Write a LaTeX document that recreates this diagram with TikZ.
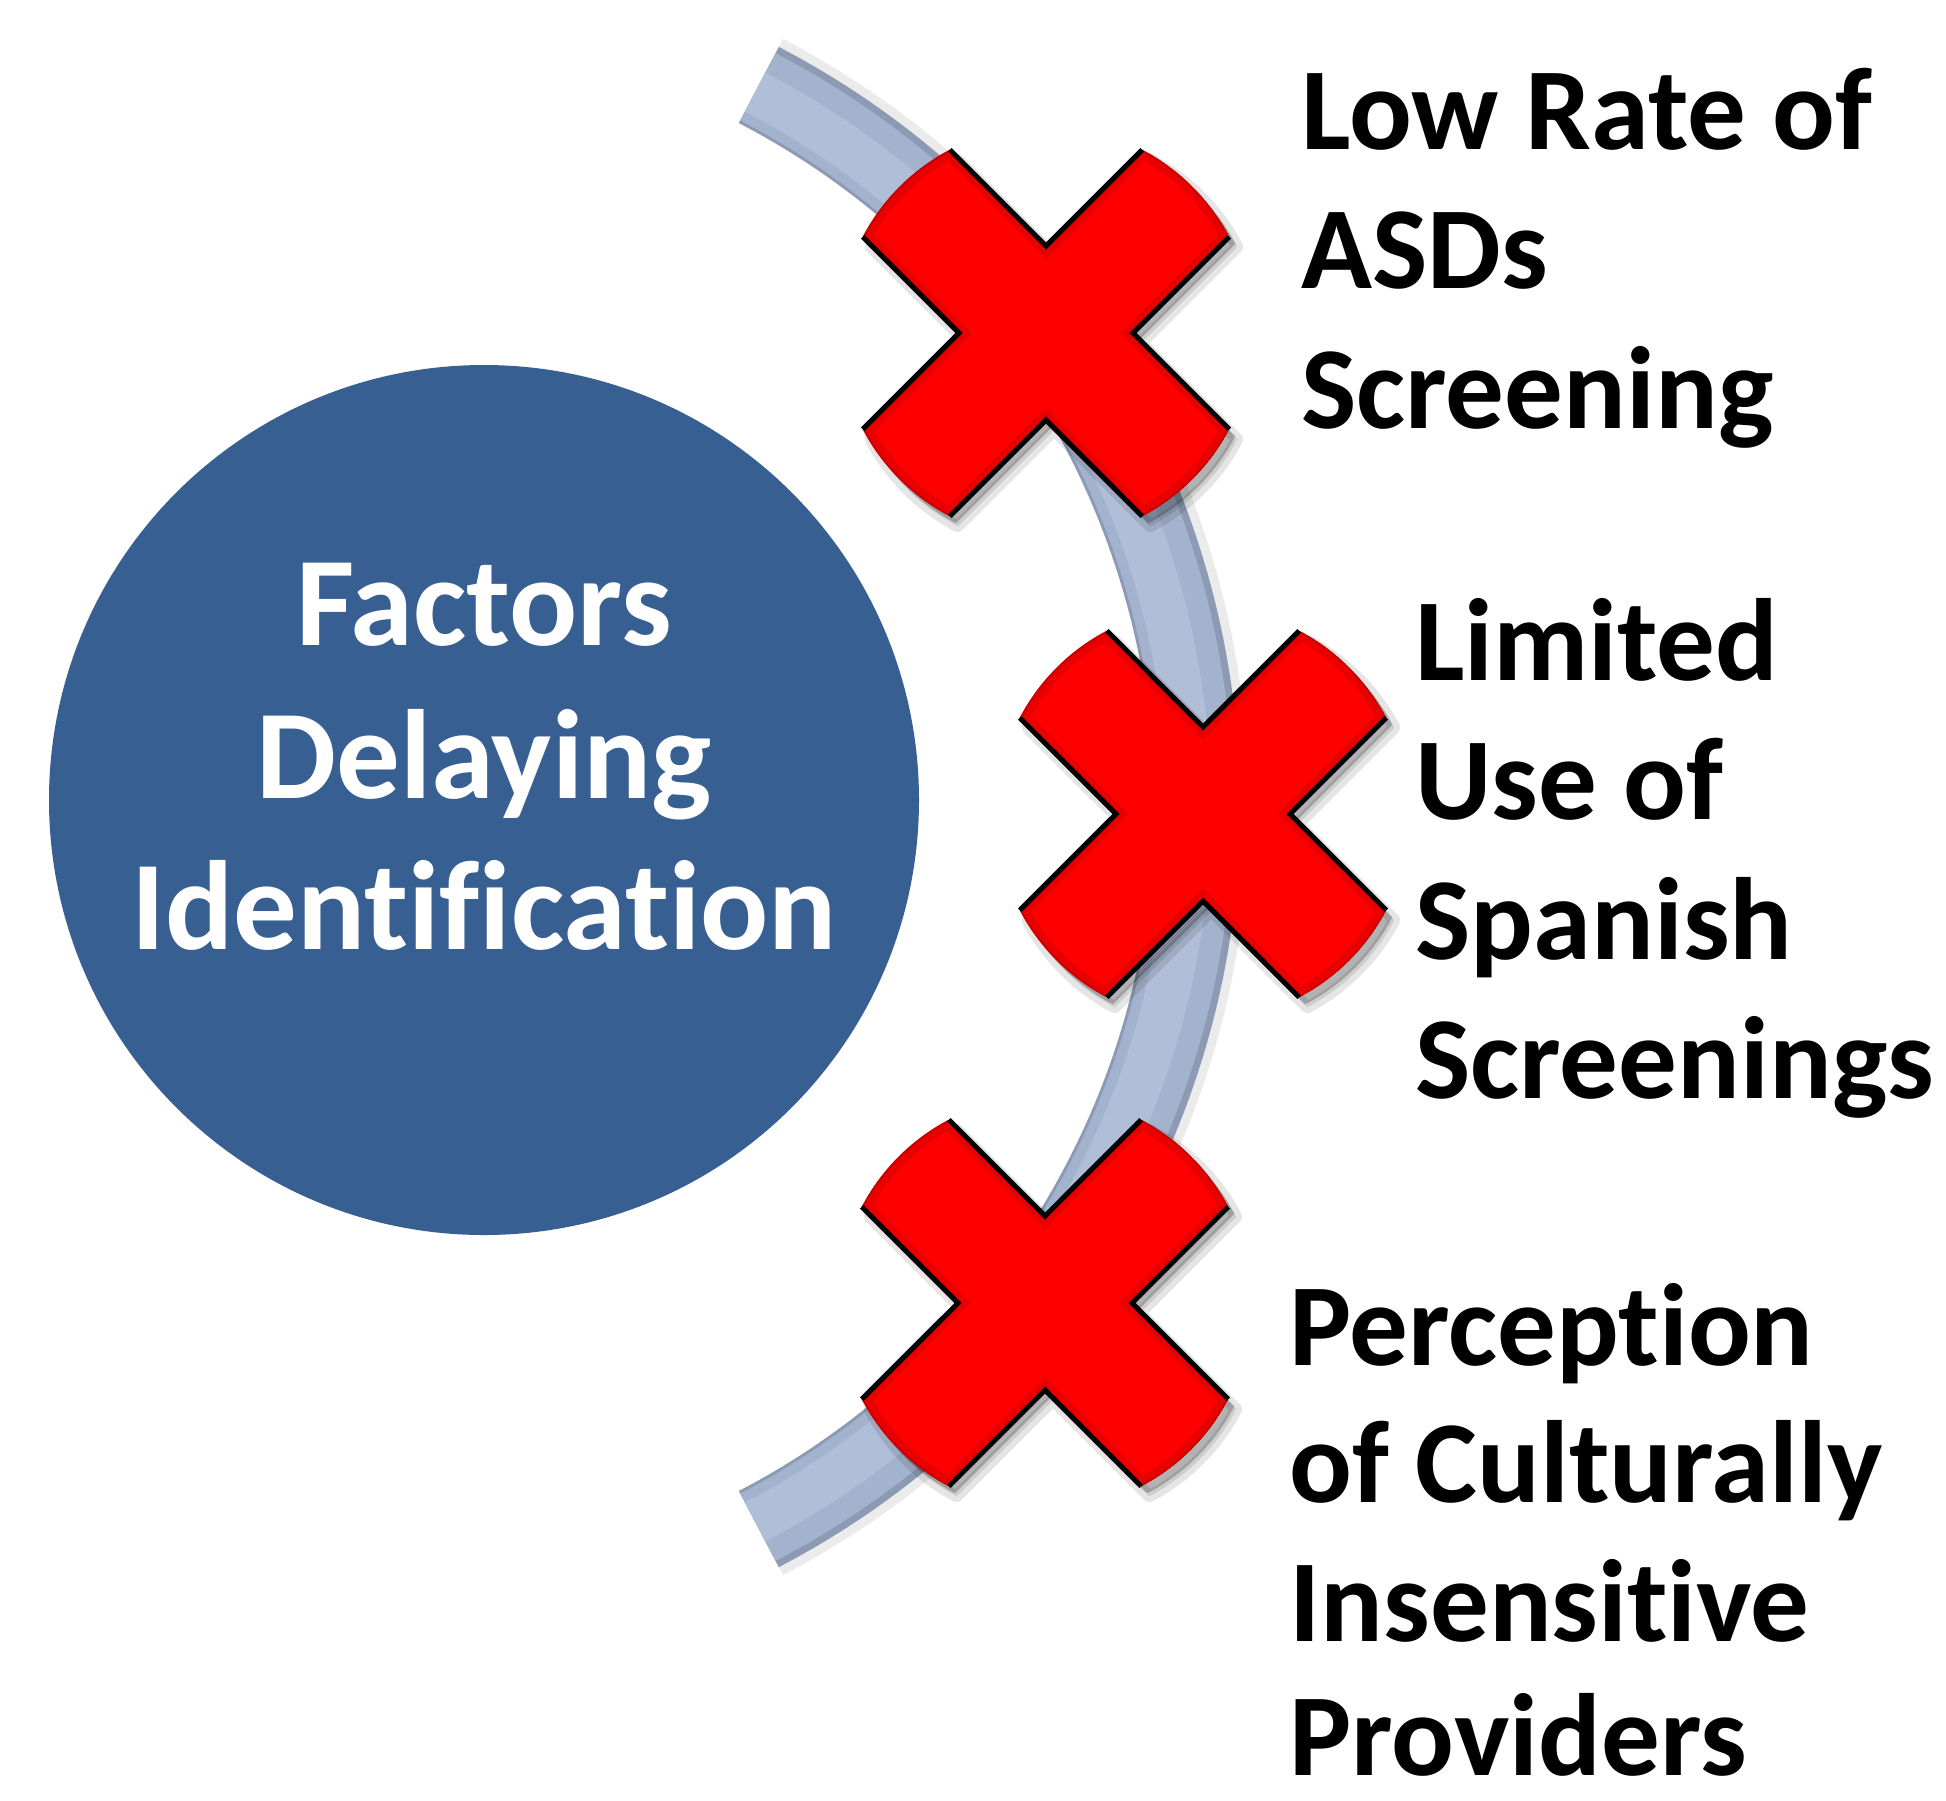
\documentclass[tikz,border=0pt]{standalone}
\usepackage{fontspec}
\setmainfont[Ligatures=NoCommon]{Carlito}
\definecolor{circblue}{HTML}{385F92}
\definecolor{bandedge}{HTML}{8C9AB3}
\definecolor{bandmid}{HTML}{A4B3CD}
\definecolor{bandlight}{HTML}{B0BED8}
\definecolor{xred}{HTML}{FF0000}
\def\xoutline{(0,-87) -- (-62.3:207) arc[start angle=-62.3,end angle=-27.7,radius=207] -- (87,0) -- (27.7:207) arc[start angle=27.7,end angle=62.3,radius=207] -- (0,87) -- (117.7:207) arc[start angle=117.7,end angle=152.3,radius=207] -- (-87,0) -- (207.7:207) arc[start angle=207.7,end angle=242.3,radius=207] -- cycle}
\def\xedges{(242.3:207) -- (0,-87) -- (-62.3:207) (-27.7:207) -- (87,0) -- (27.7:207) (62.3:207) -- (0,87) -- (117.7:207) (152.3:207) -- (-87,0) -- (207.7:207)}
\tikzset{
  redx/.pic={
    \path[fill=black, opacity=0.10, draw=black, line width=6pt, line join=round, shift={(8,10)}] \xoutline;
    \path[fill=black, opacity=0.22, shift={(6,7)}] \xoutline;
    \begin{scope}
      \clip \xoutline;
      \path[fill=xred] \xoutline;
      \path[draw=xred!80!black, opacity=0.45, line width=9pt, line join=miter] \xoutline;
      \path[draw=xred!70!black, opacity=0.5, line width=2pt] \xoutline;
    \end{scope}
    \path[draw=black, line width=2.5pt, line join=miter, line cap=butt] \xedges;
  },
  rtext/.style={anchor=base west, inner sep=0pt, font=\fontsize{58.5}{70}\selectfont\bfseries, text=black},
  ctext/.style={anchor=base, inner sep=0pt, font=\fontsize{63.5}{76}\selectfont\bfseries, text=white},
}
\begin{document}
\begin{tikzpicture}[x=0.5pt,y=-0.5pt]
\useasboundingbox (0,0) rectangle (1946,1800);
\fill[white] (0,0) rectangle (1946,1800);

% curved band
\coordinate (bc) at (383,807);
\draw[black, opacity=0.08, line width=46pt] (bc) ++(-62.5:820) arc[start angle=-62.5,end angle=62.5,radius=820];
\draw[bandedge, line width=43pt] (bc) ++(-62.5:814) arc[start angle=-62.5,end angle=62.5,radius=814];
\draw[bandmid, line width=38pt] (bc) ++(-62.5:812) arc[start angle=-62.5,end angle=62.5,radius=812];
\draw[bandlight, line width=22pt] (bc) ++(-62.5:806) arc[start angle=-62.5,end angle=62.5,radius=806];

% hub circle
\node (hub) [circle, fill=circblue, minimum size=435pt, inner sep=0pt] at (484,800) {};
\node (c1) [ctext] at (484,645) {Factors};
\node (c2) [ctext] at (484,798) {Delaying};
\node (c3) [ctext] at (484,949) {Identification};

% red crosses
\coordinate (x1) at (1046,333);
\coordinate (x2) at (1203,814);
\coordinate (x3) at (1045,1303);
\pic at (x1) {redx};
\pic at (x2) {redx};
\pic at (x3) {redx};

% labels
\node (a1) [rtext] at (1301,149) {Low Rate of};
\node (a2) [rtext] at (1301,288) {ASDs};
\node (a3) [rtext] at (1301,428) {Screening};

\node (b1) [rtext] at (1415,680) {Limited};
\node (b2) [rtext] at (1415,819) {Use of};
\node (b3) [rtext] at (1415,959) {Spanish};
\node (b4) [rtext] at (1415,1098) {Screenings};

\node (d1) [rtext] at (1289,1365) {Perception};
\node (d2) [rtext] at (1289,1502) {of Culturally};
\node (d3) [rtext] at (1289,1641) {Insensitive};
\node (d4) [rtext] at (1289,1775) {Providers};
\end{tikzpicture}
\end{document}
